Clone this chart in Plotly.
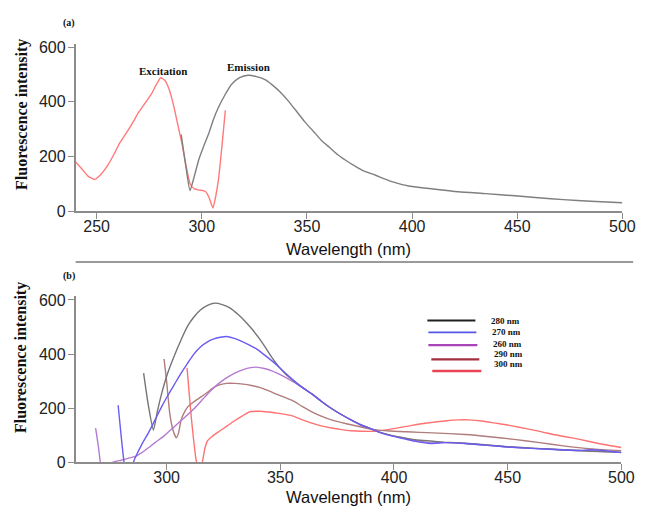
import plotly.graph_objects as go

# ---------------- data ----------------
exc_wl = [240, 243, 246, 249, 252, 255, 258, 261, 264, 267, 270, 273, 276, 278.5, 280.5, 282.5, 284.5, 286.5, 288.5, 290.5, 292.5, 294.5, 296.5, 299, 301.8, 303.5, 305.3, 306.5, 308, 309.6, 311.2]
exc_int = [181, 155, 128, 117, 135, 165, 205, 250, 285, 322, 362, 395, 428, 465, 488, 478, 445, 390, 320, 250, 168, 100, 82, 78, 73, 50, 12, 50, 121, 240, 369]

em_wl = [290.2, 292.3, 294.4, 296.5, 298.7, 301, 303.4, 305.5, 308, 311, 314.2, 318, 322, 326, 329.8, 333.5, 337.5, 341.5, 345.3, 349, 353.1, 356.8, 360.8, 364.5, 368.6, 372.5, 376.4, 382.6, 390, 399, 410, 422, 435, 449, 460, 472, 485, 500]
em_int = [280, 170, 76, 130, 192, 240, 286, 335, 381, 425, 464, 488, 497, 492, 482, 462, 434, 400, 363, 327, 292, 260, 233, 208, 186, 167, 150, 132, 110, 92, 82, 72, 65, 57, 50, 43, 37, 32]

wl_280 = [289.9, 292, 294.2, 296, 297.8, 300.5, 303.5, 306.5, 309.3, 312, 315, 318, 320.8, 324.5, 328, 331.5, 335.1, 338, 340.9, 343.8, 346.6, 349.5, 352.4, 355.3, 359.6, 363.9, 368, 372.5, 377, 381.1, 385, 389.7, 394, 398.4, 405.6, 410, 416, 422, 431.4, 440, 450, 462, 474.5, 487, 500]
int_280 = [330, 210, 119, 190, 253, 330, 396, 455, 504, 537, 564, 580, 588, 583, 570, 546, 516, 488, 456, 420, 384, 352, 326, 305, 278, 253, 226, 199, 176, 157, 140, 125, 111, 101, 89, 83, 79, 75, 71, 65, 58, 52, 47, 41, 37]

wl_270 = [278.7, 280, 281.3, 282.5, 284, 285.6, 286.3, 289, 292, 295, 297.8, 300.6, 303.5, 306.4, 309.3, 312, 315, 318, 320.8, 323.6, 326.5, 329.4, 332.3, 335.8, 339.4, 343, 346.6, 350, 353.8, 359.6, 363.9, 368, 372.5, 377, 381.1, 385, 389.7, 394, 398.4, 405.6, 410, 416, 422, 431.4, 440, 450, 462, 474.5, 481, 487, 493, 500]
int_270 = [211, 100, 0, -60, -60, 5, 19, 65, 109, 158, 205, 248, 289, 330, 367, 400, 427, 445, 456, 462, 465, 459, 450, 436, 420, 397, 373, 348, 318, 277, 253, 226, 199, 176, 157, 140, 125, 110, 99, 85, 77, 70, 73, 70, 64, 57, 51, 46, 44, 47, 43, 36]

wl_260 = [268.8, 270, 270.9, 272, 274, 276.2, 280, 283, 286.3, 290.6, 294.9, 299.2, 303.5, 307.8, 312.2, 315.8, 319.4, 323, 326.5, 330, 333.7, 337, 339.4, 343, 346.6, 350.2, 353.8, 356.7, 359.6, 363.9, 368, 372.5, 377, 381.1, 385, 389.7, 394, 398.4, 405.6, 410, 416, 422, 431.4, 440, 450, 462, 474.5, 487, 500]
int_260 = [127, 60, 0, -40, -40, 0, 8, 15, 22, 45, 73, 100, 133, 165, 199, 232, 265, 292, 313, 330, 343, 350, 352, 347, 337, 323, 307, 293, 277, 253, 226, 199, 176, 157, 140, 125, 110, 100, 88, 80, 72, 73, 70, 64, 57, 52, 46, 42, 37]

wl_290 = [298.9, 300, 301.4, 302.8, 304.3, 305.3, 306.4, 307.8, 309.3, 312, 315, 318, 320.8, 323.6, 326.5, 330, 333.7, 337.3, 340.9, 344.5, 348.1, 351.7, 355.3, 359.6, 363.9, 368, 372.5, 377, 381.1, 386, 391.5, 398, 405.6, 417, 431.4, 442, 452.9, 464, 474.5, 487, 500]
int_290 = [382, 300, 181, 120, 91, 110, 157, 185, 205, 224, 241, 259, 277, 287, 292, 292, 289, 284, 277, 266, 253, 241, 229, 207, 187, 171, 157, 147, 139, 130, 121, 116, 113, 109, 103, 95, 85, 73, 61, 50, 43]

wl_300 = [309, 310.7, 311.8, 312.9, 314.3, 315.7, 316.8, 317.9, 320, 322.2, 325.8, 329.4, 333, 336.6, 340.9, 345, 349.5, 355.3, 359.6, 363.9, 368, 372.5, 377, 381.1, 386, 391.5, 398, 405.6, 412, 417, 423, 428.5, 433, 438.6, 444, 450, 455, 460.2, 465, 470, 476, 481.7, 490, 500]
int_300 = [349, 181, 90, 14, -40, 0, 50, 79, 96, 109, 130, 151, 170, 187, 189, 186, 181, 172, 158, 145, 135, 127, 121, 117, 115, 115, 122, 133, 143, 148, 154, 157, 157, 153, 146, 138, 130, 121, 113, 103, 94, 85, 70, 55]

legend_labels = ["280 nm", "270 nm", "260 nm", "290 nm", "300 nm"]
x_ticks_top = [250, 300, 350, 400, 450, 500]
x_ticks_bot = [300, 350, 400, 450, 500]
y_ticks = [0, 200, 400, 600]

# ---------------- layout helpers ----------------
W, H = 646, 514
def fx(p):
    return p / W
def fy(p):
    return 1 - p / H

SERIF = "Times New Roman, Liberation Serif, serif"
SANS = "Arial, Liberation Sans, sans-serif"
AXC = "#8c8c8c"

fig = go.Figure()

def add(x, y, color, xa, ya, width=1.4):
    fig.add_trace(go.Scatter(x=x, y=y, mode="lines", xaxis=xa, yaxis=ya,
                             line=dict(color=color, width=width, shape="spline", smoothing=0.5),
                             showlegend=False, hoverinfo="skip"))

add(exc_wl, exc_int, "#ff7a7a", "x", "y")
add(em_wl, em_int, "#7f7f7f", "x", "y")

add(wl_300, int_300, "#ff7272", "x2", "y2")
add(wl_290, int_290, "#b07c7c", "x2", "y2")
add(wl_260, int_260, "#b57ad2", "x2", "y2")
add(wl_280, int_280, "#757575", "x2", "y2")
add(wl_270, int_270, "#6a5cf0", "x2", "y2")

axis_common = dict(showgrid=False, zeroline=False, showline=True, linecolor=AXC, linewidth=1.5,
                   ticks="outside", ticklen=6, tickwidth=1.3, tickcolor=AXC,
                   tickfont=dict(family=SANS, size=16, color="#222222"))

fig.update_layout(
    width=W, height=H,
    margin=dict(l=0, r=0, t=0, b=0),
    paper_bgcolor="white", plot_bgcolor="white",
    xaxis=dict(domain=[fx(69), fx(627)], range=[240, 500], anchor="y",
               tickvals=x_ticks_top, ticklabelstandoff=-6, **axis_common),
    yaxis=dict(domain=[fy(204), fy(31.6)], range=[0, 612], anchor="x",
               tickvals=y_ticks, ticklabelstandoff=-1, **axis_common),
    xaxis2=dict(domain=[fx(69), fx(626)], range=[260, 500], anchor="y2",
                tickvals=x_ticks_bot, ticklabelstandoff=-6, **axis_common),
    yaxis2=dict(domain=[fy(462), fy(290.8)], range=[0, 615], anchor="x2",
                tickvals=y_ticks, ticklabelstandoff=-1, **axis_common),
)

ann = []
def text(x, y, s, size, family=SERIF, bold=True, angle=0, xanchor="center"):
    ann.append(dict(x=fx(x), y=fy(y), xref="paper", yref="paper", text=("<b>%s</b>" % s) if bold else s,
                    showarrow=False, textangle=angle, xanchor=xanchor, yanchor="middle",
                    font=dict(family=family, size=size, color="#111111")))

text(62, 10, "(a)", 10)
text(62, 270, "(b)", 10)
text(158, 60, "Excitation", 11)
text(245, 56, "Emission", 11)
text(14, 104, "Fluorescence intensity", 16, angle=-90)
text(14, 354, "Fluorescence intensity", 16, angle=-90)
text(348, 243, "Wavelength (nm)", 16.5, family=SANS, bold=False)
text(348, 498, "Wavelength (nm)", 16.5, family=SANS, bold=False)

# legend (manual)
leg_colors = ["#202020", "#5656e8", "#a844b8", "#a0303e", "#e84452"]
leg_y = [316, 328.3, 341.5, 356, 368]
leg_x0 = [428, 429, 429, 432, 433]
leg_x1 = [477, 478, 479, 481, 483]
leg_w = [2.0, 1.6, 2.3, 2.3, 2.3]
lab_y = [316.7, 328.3, 340.7, 351, 361.3]
lab_x = [491, 491.7, 492.7, 493.7, 494]
shapes = []
for i, lab in enumerate(legend_labels):
    shapes.append(dict(type="line", xref="paper", yref="paper",
                       x0=fx(leg_x0[i]), x1=fx(leg_x1[i]), y0=fy(leg_y[i]), y1=fy(leg_y[i]),
                       line=dict(color=leg_colors[i], width=leg_w[i])))
    text(lab_x[i], lab_y[i], lab, 9, xanchor="left")

# separator line
shapes.append(dict(type="line", xref="paper", yref="paper", x0=fx(69), x1=fx(638),
                   y0=fy(256), y1=fy(256), line=dict(color="#9a9a9a", width=2)))

fig.update_layout(annotations=ann, shapes=shapes)
fig.write_html("out.html")
